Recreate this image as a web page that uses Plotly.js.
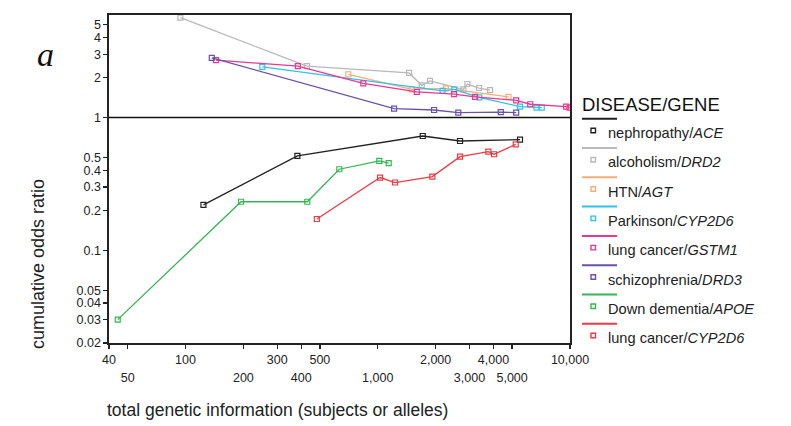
<!DOCTYPE html>
<html>
<head>
<meta charset="utf-8">
<script src="https://cdn.plot.ly/plotly-3.0.1.min.js"></script>
<style>html,body{margin:0;padding:0;background:#fff;}#chart{width:791px;height:426px;}</style>
</head>
<body>
<div id="chart"></div>
<script>
// ---- data ----
const seriesLabels = ["nephropathy/<i>ACE</i>", "alcoholism/<i>DRD2</i>", "HTN/<i>AGT</i>", "Parkinson/<i>CYP2D6</i>",
  "lung cancer/<i>GSTM1</i>", "schizophrenia/<i>DRD3</i>", "Down dementia/<i>APOE</i>", "lung cancer/<i>CYP2D6</i>"];
const seriesColors = ["#222222", "#b8b8b8", "#f5ad78", "#2fc2ee", "#e8388f", "#6a52a8", "#36b552", "#ec3b45"];

const nephX = [124, 382, 1714, 2679, 5495];
const nephY = [0.220, 0.514, 0.726, 0.666, 0.681];
const alcX = [94, 428, 1455, 1694, 1870, 2786, 2925, 3365, 3839];
const alcY = [5.67, 2.44, 2.17, 1.75, 1.89, 1.63, 1.79, 1.67, 1.61];
const htnX = [703, 1503, 2259, 4786];
const htnY = [2.12, 1.63, 1.66, 1.43];
const parkX = [251, 2173, 2500, 3373, 5495, 6698, 7130];
const parkY = [2.41, 1.59, 1.63, 1.42, 1.21, 1.19, 1.19];
const gstX = [144, 384, 841, 1596, 2495, 3207, 5248, 6210, 9550, 9940];
const gstY = [2.71, 2.44, 1.81, 1.56, 1.50, 1.43, 1.35, 1.26, 1.21, 1.19];
const schizX = [137, 1216, 1963, 2624, 4365, 5248];
const schizY = [2.82, 1.17, 1.14, 1.09, 1.10, 1.09];
const downX = [44.4, 194.5, 430, 631, 1019, 1140];
const downY = [0.030, 0.232, 0.232, 0.408, 0.471, 0.453];
const lungCypX = [482, 1028, 1230, 1923, 2679, 3760, 4027, 5223];
const lungCypY = [0.172, 0.353, 0.324, 0.359, 0.508, 0.553, 0.529, 0.629];

const xTopVals = [40, 100, 300, 500, 2000, 4000, 10000];
const xTopText = ["40", "100", "300", "500", "2,000", "4,000", "10,000"];
const xLowVals = [50, 200, 400, 1000, 3000, 5000];
const xLowText = ["50", "200", "400", "1,000", "3,000", "5,000"];
const yTickVals = [0.02, 0.03, 0.04, 0.05, 0.1, 0.2, 0.3, 0.4, 0.5, 1, 2, 3, 4, 5];
const yTickText = ["0.02", "0.03", "0.04", "0.05", "0.1", "0.2", "0.3", "0.4", "0.5", "1", "2", "3", "4", "5"];

const seriesXs = [nephX, alcX, htnX, parkX, gstX, schizX, downX, lungCypX];
const seriesYs = [nephY, alcY, htnY, parkY, gstY, schizY, downY, lungCypY];

// ---- layout geometry ----
const W = 791, H = 426;
const L = 109, R = 570, T = 15, B = 343;
const px = v => (v - L) / (R - L);
const py = v => (B - v) / (B - T);

const traces = seriesXs.map((xs, i) => ({
  type: "scatter", mode: "lines+markers", x: xs, y: seriesYs[i],
  line: {color: seriesColors[i], width: 1.3},
  marker: {symbol: "square-open", size: 5, color: seriesColors[i], line: {width: 1.2, color: seriesColors[i]}},
  showlegend: false, hoverinfo: "skip"
}));
// empty trace to hold the second row of x tick labels
traces.push({type: "scatter", x: [], y: [], xaxis: "x2", yaxis: "y", showlegend: false});

const font = "Liberation Sans, Arial, sans-serif";
const shapes = [
  {type: "line", xref: "paper", yref: "y", x0: 0, x1: 1, y0: 1, y1: 1, line: {color: "#111", width: 1.5}}
];
const annotations = [
  {text: "<i>a</i>", xref: "paper", yref: "paper", x: px(45), y: py(54), showarrow: false,
   font: {family: "Liberation Serif, Times New Roman, serif", size: 34, color: "#111"}, xanchor: "center", yanchor: "middle"},
  {text: "cumulative odds ratio", xref: "paper", yref: "paper", x: px(38), y: py(264), textangle: -90, showarrow: false,
   font: {family: font, size: 18, color: "#222"}, xanchor: "center", yanchor: "middle"},
  {text: "total genetic information (subjects or alleles)", xref: "paper", yref: "paper", x: px(277), y: py(410), showarrow: false,
   font: {family: font, size: 17.5, color: "#222"}, xanchor: "center", yanchor: "middle"},
  {text: "DISEASE/GENE", xref: "paper", yref: "paper", x: px(580), y: py(104), showarrow: false,
   font: {family: font, size: 18.5, color: "#111"}, xanchor: "left", yanchor: "middle"}
];
seriesLabels.forEach((lab, i) => {
  const ly = 118.7 + i * 29.3;
  shapes.push({type: "line", xref: "paper", yref: "paper", x0: px(582), x1: px(617), y0: py(ly), y1: py(ly),
    line: {color: seriesColors[i], width: 2}});
  shapes.push({type: "rect", xref: "paper", yref: "paper", x0: px(591), x1: px(595.5), y0: py(ly + 9.5), y1: py(ly + 14),
    line: {color: seriesColors[i], width: 1.4}, fillcolor: "rgba(0,0,0,0)"});
  annotations.push({text: lab, xref: "paper", yref: "paper", x: px(606), y: py(ly + 14.3), showarrow: false,
    font: {family: font, size: 14.6, color: "#222"}, xanchor: "left", yanchor: "middle"});
});

const xRange = [Math.log10(40), 4];
const layout = {
  width: W, height: H,
  margin: {l: L, r: W - R, t: T, b: H - B, pad: 0},
  paper_bgcolor: "#fff", plot_bgcolor: "#fff",
  font: {family: font, size: 12, color: "#222"},
  showlegend: false,
  xaxis: {type: "log", range: xRange, tickmode: "array",
    tickvals: xTopVals.concat(xLowVals), ticktext: xTopText.concat(xLowVals.map(() => "")),
    ticks: "outside", ticklen: 4, tickwidth: 1.3, tickcolor: "#222",
    showline: true, linecolor: "#222", linewidth: 1.6, mirror: true,
    showgrid: false, zeroline: false, tickfont: {size: 12.5, color: "#222"}},
  xaxis2: {type: "log", range: xRange, overlaying: "x", anchor: "y", side: "bottom", tickmode: "array",
    tickvals: xLowVals, ticktext: xLowText, ticks: "", ticklabelstandoff: 25,
    showline: false, showgrid: false, zeroline: false, tickfont: {size: 12.5, color: "#222"}},
  yaxis: {type: "log", range: [Math.log10(0.02), Math.log10(5.93)], tickmode: "array",
    tickvals: yTickVals, ticktext: yTickText,
    ticks: "outside", ticklen: 4, tickwidth: 1.3, tickcolor: "#222",
    showline: true, linecolor: "#222", linewidth: 1.6, mirror: true,
    showgrid: false, zeroline: false, tickfont: {size: 12.5, color: "#222"}},
  shapes: shapes,
  annotations: annotations
};

Plotly.newPlot("chart", traces, layout, {displayModeBar: false, staticPlot: true});
</script>
</body>
</html>
